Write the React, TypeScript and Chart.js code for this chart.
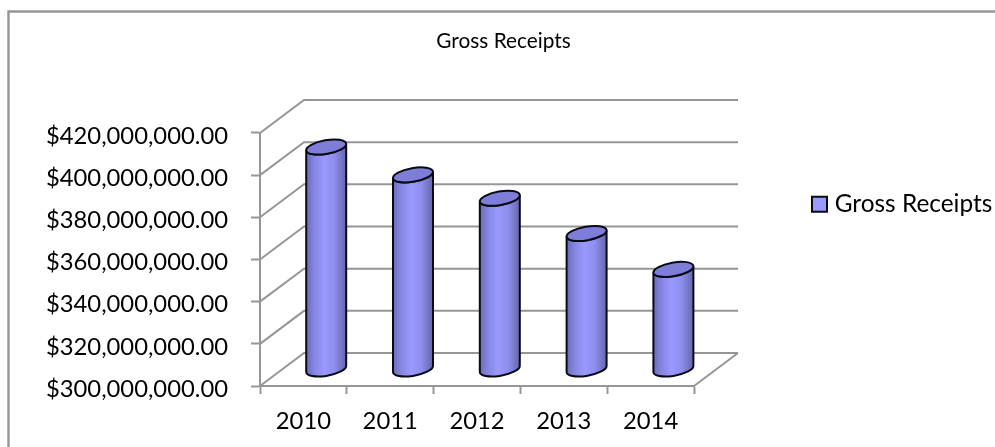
import React, { useEffect, useRef } from "react";
import { Chart, registerables } from "chart.js";

Chart.register(...registerables);

const categories = ["2010", "2011", "2012", "2013", "2014"];
const seriesName = "Gross Receipts";
const values = [405500000, 392300000, 381200000, 364500000, 347500000];
const yMin = 300000000;
const yMax = 420000000;
const yStep = 20000000;

const DX = 44;
const DY = 33;
const AXIS = "#969696";
const FONT = "Lato";

const money = (v: number) =>
  "$" + v.toLocaleString("en-US", { minimumFractionDigits: 2, maximumFractionDigits: 2 });

const scene = {
  id: "scene",
  afterLayout(chart: any) {
    const lg = chart.legend;
    const w = lg.right - lg.left;
    const h = lg.bottom - lg.top;
    lg.left = 806.5;
    lg.right = 806.5 + w;
    lg.top = 182;
    lg.bottom = 182 + h;
    chart.titleBlock.left = 12;
    chart.titleBlock.right = 995;
  },
  beforeDraw(chart: any) {
    for (const item of chart.scales.y.getLabelItems(chart.chartArea)) {
      if (!item.shifted) {
        item.textOffset += 3;
        item.shifted = true;
      }
    }
  },
  beforeDatasetsDraw(chart: any) {
    const { ctx, chartArea, scales } = chart;
    const { left, right } = chartArea;
    const base = scales.y.getPixelForValue(yMin);
    ctx.save();
    ctx.strokeStyle = AXIS;
    ctx.lineWidth = 2;
    for (const t of scales.y.ticks) {
      const y = scales.y.getPixelForValue(t.value);
      ctx.beginPath();
      ctx.moveTo(left, y);
      ctx.lineTo(left + DX, y - DY);
      ctx.lineTo(right + DX, y - DY);
      ctx.stroke();
    }
    ctx.beginPath();
    ctx.moveTo(right, base);
    ctx.lineTo(right + DX, base - DY);
    ctx.stroke();
    ctx.restore();
  },
  beforeDatasetDraw(chart: any, args: any) {
    const { ctx } = chart;
    const meta = chart.getDatasetMeta(args.index);
    const tilt = (-10 * Math.PI) / 180;
    for (const el of meta.data) {
      const p = el.getProps(["x", "y", "base", "width"], true);
      const cx = p.x + DX / 2 + 0.8;
      const topY = p.y - DY / 2;
      const botY = p.base - DY / 2;
      const a = p.width / 2 + 0.3;
      const b = 6.8;
      const t0 = Math.atan2(-b * Math.sin(tilt), a * Math.cos(tilt));
      const g = ctx.createLinearGradient(cx - a, 0, cx + a, 0);
      g.addColorStop(0, "#6a6ab8");
      g.addColorStop(0.2, "#8585e0");
      g.addColorStop(0.45, "#9999ff");
      g.addColorStop(0.7, "#8e8eee");
      g.addColorStop(1, "#6464ac");
      ctx.save();
      ctx.beginPath();
      ctx.ellipse(cx, topY, a, b, tilt, t0 + Math.PI, t0 + 2 * Math.PI, true);
      ctx.ellipse(cx, botY, a, b, tilt, t0, t0 + Math.PI, false);
      ctx.closePath();
      ctx.fillStyle = g;
      ctx.fill();
      ctx.strokeStyle = "#0a0a14";
      ctx.lineWidth = 2;
      ctx.stroke();
      ctx.beginPath();
      ctx.ellipse(cx, topY, a, b, tilt, 0, 2 * Math.PI);
      ctx.fillStyle = "#7e7ed8";
      ctx.fill();
      ctx.stroke();
      ctx.restore();
    }
    return false;
  },
  afterDraw(chart: any) {
    const { ctx } = chart;
    ctx.save();
    ctx.strokeStyle = AXIS;
    ctx.lineWidth = 2.4;
    ctx.beginPath();
    ctx.moveTo(8.5, 447);
    ctx.lineTo(8.5, 11.5);
    ctx.lineTo(995, 11.5);
    ctx.stroke();
    ctx.restore();
  },
};

export default function App() {
  const ref = useRef<HTMLCanvasElement>(null);
  useEffect(() => {
    const chart = new Chart(ref.current as HTMLCanvasElement, {
      type: "bar",
      data: {
        labels: categories,
        datasets: [
          {
            label: seriesName,
            data: values,
            base: yMin,
            backgroundColor: "#9999ff",
            borderColor: "#0a0a14",
            borderWidth: 2,
            pointStyle: "rect",
            barPercentage: 0.46,
            categoryPercentage: 1,
          },
        ],
      },
      options: {
        animation: false,
        responsive: false,
        devicePixelRatio: 1,
        layout: { padding: { left: 0, right: 301, top: 0, bottom: 0 } },
        scales: {
          x: {
            afterFit: (s: any) => {
              s.height = 61;
            },
            grid: { drawOnChartArea: false, drawTicks: true, tickLength: 8, tickColor: AXIS, tickWidth: 2 },
            border: { color: AXIS, width: 2 },
            ticks: { color: "#000", font: { family: FONT, size: 23.8 }, padding: 13, maxRotation: 0 },
          },
          y: {
            min: yMin,
            max: yMax,
            afterFit: (s: any) => {
              s.width = 260;
            },
            grid: { drawOnChartArea: false, drawTicks: true, tickLength: 9, tickColor: AXIS, tickWidth: 2 },
            border: { color: AXIS, width: 2 },
            ticks: {
              stepSize: yStep,
              color: "#000",
              font: { family: FONT, size: 23.8 },
              padding: 23,
              callback: (v: any) => money(Number(v)),
            },
          },
        },
        plugins: {
          tooltip: { enabled: false },
          title: {
            display: true,
            text: seriesName,
            color: "#000",
            font: { family: FONT, size: 20.8, weight: "normal" },
            padding: { top: 28.5, bottom: 79.5 },
          },
          legend: {
            position: "chartArea",
            align: "start",
            labels: {
              color: "#000",
              font: { family: FONT, size: 24.4 },
              usePointStyle: true,
              boxWidth: 6,
              boxHeight: 15,
              padding: 10,
            },
          },
        },
      } as any,
      plugins: [scene],
    });
    return () => chart.destroy();
  }, []);
  return (
    <canvas
      ref={ref}
      width={995}
      height={447}
      style={{ position: "fixed", left: 0, top: 0, width: 995, height: 447, display: "block", background: "#fff" }}
    />
  );
}
